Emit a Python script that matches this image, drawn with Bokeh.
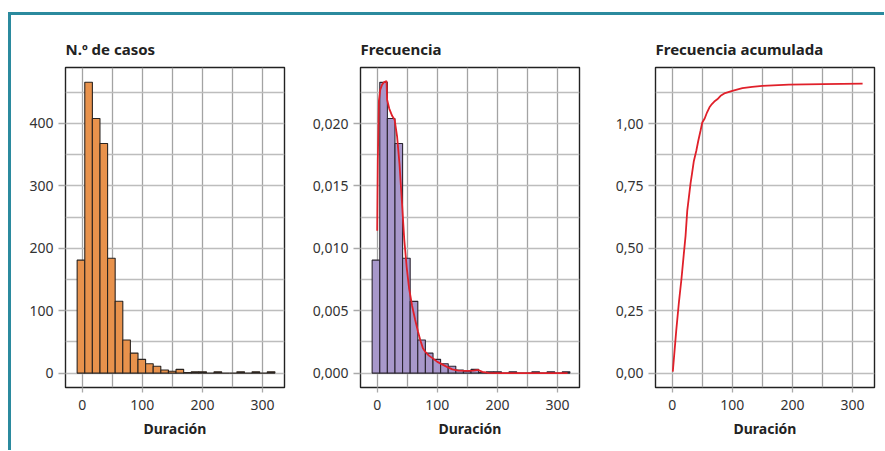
from bokeh.plotting import figure
from bokeh.layouts import row
from bokeh.models import Range1d, FixedTicker, CustomJSTickFormatter, ColumnDataSource
from bokeh.embed import file_html
from bokeh.resources import INLINE

# ---- data ----
bin_width = 12.65
bin_centers = [-2.1, 10.6, 23.2, 35.9, 48.5, 61.2, 73.8, 86.5, 99.1, 111.8, 124.4, 137.1, 149.7,
               162.4, 175.0, 187.7, 200.3, 213.0, 225.6, 238.3, 250.9, 263.6, 276.2, 288.9, 301.5, 314.2]
counts = [181, 466, 408, 368, 184, 115, 53, 32, 22, 15, 11, 5, 3,
          6, 1, 2, 2, 0, 2, 0, 0, 2, 0, 2, 0, 2]
freqs = [0.00905, 0.0233, 0.0204, 0.0184, 0.0092, 0.00575, 0.00265, 0.0016, 0.0011, 0.00075, 0.00055, 0.00025, 0.00015,
         0.0003, 0.00005, 0.0001, 0.0001, 0.0, 0.0001, 0.0, 0.0, 0.0001, 0.0, 0.0001, 0.0, 0.0001]

dens_x = [0, 1, 2.8, 5, 8, 11, 15.5, 16.5, 20, 25, 29, 33, 37, 41, 45, 49, 53, 58, 63, 68, 72, 76, 80,
          86, 92, 100, 108, 116, 125, 135, 150, 160, 168, 175, 185, 200, 316.7]
dens_y = [0.0114, 0.0170, 0.0218, 0.0227, 0.0231, 0.0233, 0.0234, 0.0219, 0.0212, 0.0206, 0.0203, 0.0190,
          0.0168, 0.0138, 0.0107, 0.0085, 0.0068, 0.0054, 0.0043, 0.0033, 0.0026, 0.0020, 0.0017, 0.0014,
          0.0012, 0.0009, 0.0007, 0.0005, 0.0003, 0.0002, 0.00018, 0.0002, 0.00025, 0.0001, 0.00002, 0.0, 0.0]

cum_x = [1, 6.7, 11, 15.5, 19, 22.2, 25, 28, 30.5, 33, 36, 40, 43.3, 47, 50, 54, 58, 62, 66, 70, 75,
         80.5, 88, 100, 116.7, 133, 150, 194, 250, 316.7]
cum_y = [0.006, 0.17, 0.28, 0.38, 0.47, 0.55, 0.65, 0.71, 0.76, 0.80, 0.85, 0.89, 0.93, 0.97, 1.004,
         1.02, 1.045, 1.065, 1.078, 1.088, 1.097, 1.111, 1.122, 1.131, 1.142, 1.147, 1.151, 1.156, 1.158, 1.160]

titles = ["N.º de casos", "Frecuencia", "Frecuencia acumulada"]
x_label = "Duración"
x_ticks = [0, 100, 200, 300]
x_minor = [50, 150, 250]

FONT = "Noto Sans"
RED = "#e0202a"


def make_fig(title, yr, y_major, y_minor, digits, right_border):
    p = figure(width=54 + 219 + right_border, height=435,
               x_range=Range1d(-27.8, 336.5), y_range=Range1d(*yr),
               output_backend="svg", toolbar_location=None, title=title,
               min_border_left=54, min_border_right=right_border,
               min_border_top=52, min_border_bottom=63)
    p.title.text_font = FONT
    p.title.text_font_size = "15px"
    p.title.text_font_style = "bold"
    p.title.text_color = "#222222"
    p.title.align = "left"
    p.title.offset = 0
    p.title.standoff = 17

    p.outline_line_color = "#222222"
    p.outline_line_width = 1.4
    p.background_fill_color = "white"
    p.border_fill_color = "white"

    p.xaxis.ticker = FixedTicker(ticks=x_ticks, minor_ticks=x_minor)
    p.yaxis.ticker = FixedTicker(ticks=y_major, minor_ticks=y_minor)
    p.yaxis.formatter = CustomJSTickFormatter(
        code="return tick.toFixed(%d).replace('.', ',');" % digits)

    for ax in (p.xaxis, p.yaxis):
        ax.axis_line_color = None
        ax.major_tick_line_color = "#aaaaaa"
        ax.major_tick_line_width = 1.3
        ax.major_tick_in = 0
        ax.minor_tick_line_color = None
        ax.major_label_text_font = FONT
        ax.major_label_text_font_size = "14px"
        ax.major_label_text_color = "#333333"
    p.xaxis.major_tick_out = 5
    p.xaxis.major_label_standoff = 7
    p.yaxis.major_tick_out = 7
    p.yaxis.major_label_standoff = 5

    p.xaxis.axis_label = x_label
    p.xaxis.axis_label_text_font = FONT
    p.xaxis.axis_label_text_font_size = "14px"
    p.xaxis.axis_label_text_font_style = "bold"
    p.xaxis.axis_label_text_color = "#222222"
    p.xaxis.axis_label_standoff = 6

    p.xgrid.grid_line_color = "#a3a3a3"
    p.xgrid.grid_line_width = 1.3
    p.xgrid.minor_grid_line_color = "#a3a3a3"
    p.xgrid.minor_grid_line_width = 1.3
    p.ygrid.grid_line_color = "#bdbdbd"
    p.ygrid.grid_line_width = 1.6
    p.ygrid.minor_grid_line_color = "#bdbdbd"
    p.ygrid.minor_grid_line_width = 1.6
    return p


src = ColumnDataSource(dict(x=bin_centers, n=counts, f=freqs))

p1 = make_fig(titles[0], (-23.1, 489.7), [0, 100, 200, 300, 400], [50, 150, 250, 350, 450], 0, 22)
p1.vbar(x="x", top="n", bottom=0, width=bin_width, source=src,
        fill_color="#e8924c", line_color="#2a2420", line_width=1.1)

p2 = make_fig(titles[1], (-0.001154, 0.02449), [0, 0.005, 0.010, 0.015, 0.020],
              [0.0025, 0.0075, 0.0125, 0.0175, 0.0225], 3, 22)
p2.vbar(x="x", top="f", bottom=0, width=bin_width, source=src,
        fill_color="#a898cb", line_color="#2a2430", line_width=1.1)
p2.line(dens_x, dens_y, line_color=RED, line_width=1.8)

p3 = make_fig(titles[2], (-0.0577, 1.2244), [0, 0.25, 0.5, 0.75, 1.0],
              [0.125, 0.375, 0.625, 0.875, 1.125], 2, 10)
p3.line(cum_x, cum_y, line_color=RED, line_width=1.8)

layout = row(p1, p2, p3, styles={"border-top": "3px solid #2b8a9e",
                                 "border-left": "3px solid #2b8a9e",
                                 "margin-top": "12px",
                                 "margin-left": "8px"})

open("out.html", "w").write(file_html(layout, INLINE))
